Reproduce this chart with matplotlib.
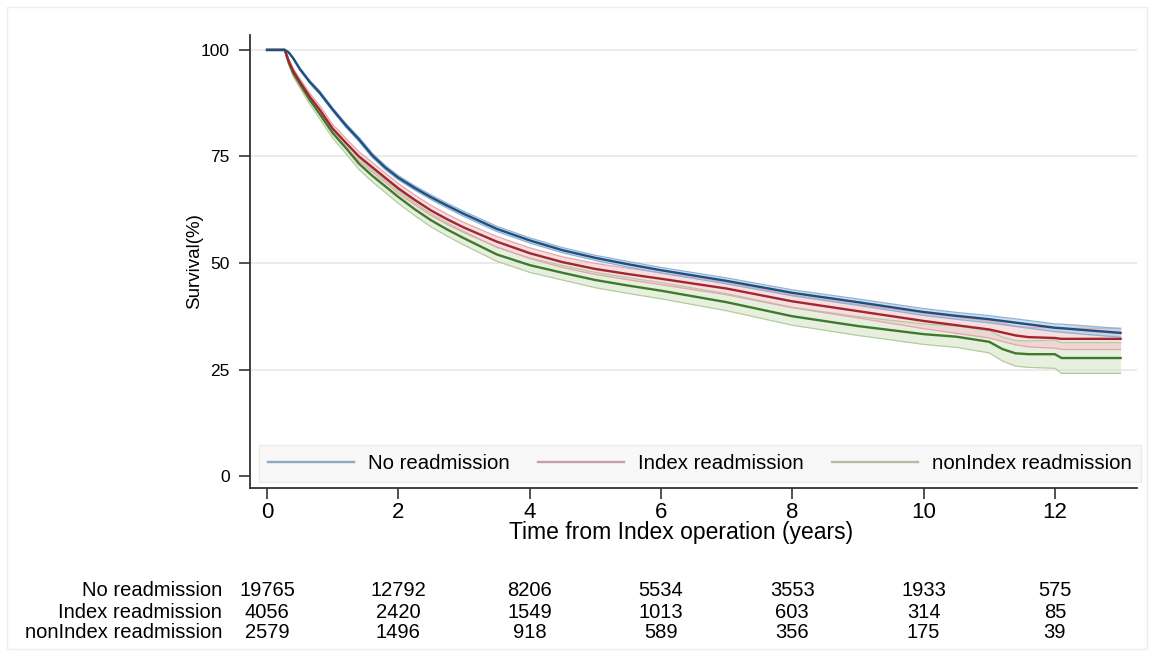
import matplotlib
matplotlib.use("Agg")
import matplotlib.pyplot as plt
import numpy as np
from matplotlib.lines import Line2D
from matplotlib.patches import Rectangle

plt.rcParams['font.family'] = ['Liberation Sans', 'DejaVu Sans']

# ---- data ----
times = [0, 0.27, 0.33, 0.4, 0.5, 0.65, 0.8, 1.0, 1.2, 1.4, 1.6,
         1.8, 2.0, 2.25, 2.5, 2.75, 3.0, 3.5, 4.0, 4.5, 5.0,
         5.5, 6.0, 7.0, 8.0, 9.0, 10.0, 10.5, 11.0, 11.2, 11.4,
         11.6, 12.0, 12.1, 12.5, 13.0]
no_readm = [100, 100, 99.4, 98.0, 95.5, 92.5, 90.0, 86.0, 82.3, 79.0, 75.3,
            72.4, 70.0, 67.6, 65.4, 63.4, 61.5, 58.0, 55.3, 53.0, 51.2,
            49.7, 48.3, 45.8, 43.0, 40.8, 38.5, 37.6, 36.8, 36.4, 36.0,
            35.6, 34.8, 34.7, 34.2, 33.6]
index_readm = [100, 100, 97.4, 95.0, 92.5, 89.0, 86.0, 81.5, 78.2, 75.0, 72.5,
               70.0, 67.5, 64.8, 62.3, 60.2, 58.3, 55.0, 52.3, 50.2, 48.6,
               47.4, 46.3, 44.0, 41.0, 38.7, 36.4, 35.4, 34.4, 33.7, 33.0,
               32.6, 32.4, 32.2, 32.2, 32.2]
nonindex_readm = [100, 100, 97.0, 94.5, 92.0, 88.3, 85.0, 80.5, 77.0, 73.3, 70.5,
                  68.0, 65.5, 62.6, 60.0, 57.8, 55.8, 52.0, 49.5, 47.7, 46.0,
                  44.7, 43.5, 40.8, 37.5, 35.2, 33.3, 32.7, 31.5, 29.8, 28.8,
                  28.6, 28.6, 27.7, 27.7, 27.7]
no_readm_ci = [0, 0, 0.1, 0.2, 0.3, 0.35, 0.4, 0.4, 0.45, 0.5, 0.5,
               0.5, 0.5, 0.5, 0.55, 0.55, 0.6, 0.6, 0.6, 0.6, 0.6,
               0.65, 0.65, 0.7, 0.7, 0.75, 0.8, 0.8, 0.85, 0.85, 0.9,
               0.9, 0.9, 0.95, 1.0, 1.0]
index_readm_ci = [0, 0, 0.4, 0.6, 0.75, 0.85, 0.95, 1.0, 1.05, 1.1, 1.1,
                  1.1, 1.15, 1.15, 1.2, 1.2, 1.2, 1.2, 1.25, 1.25, 1.3,
                  1.35, 1.4, 1.45, 1.5, 1.6, 1.8, 1.9, 2.0, 2.1, 2.2,
                  2.3, 2.4, 2.5, 2.5, 2.5]
nonindex_readm_ci = [0, 0, 0.5, 0.8, 0.9, 1.0, 1.1, 1.2, 1.3, 1.35, 1.4,
                     1.45, 1.5, 1.5, 1.55, 1.55, 1.6, 1.6, 1.7, 1.7, 1.8,
                     1.85, 1.9, 2.0, 2.1, 2.2, 2.4, 2.5, 2.6, 2.8, 3.0,
                     3.1, 3.3, 3.6, 3.6, 3.6]

series_labels = ["No readmission", "Index readmission", "nonIndex readmission"]
line_colors = ["#1f4f80", "#a3262f", "#3f7a2c"]
fill_colors = ["#a9c3de", "#f1c4c9", "#d4e4c6"]
edge_colors = ["#8fb2d4", "#e2a7ae", "#b3cc9f"]
legend_colors = ["#8ea8c0", "#c69fa9", "#b5bca4"]

xticks = [0, 2, 4, 6, 8, 10, 12]
yticks = [0, 25, 50, 75, 100]
risk_no = [19765, 12792, 8206, 5534, 3553, 1933, 575]
risk_index = [4056, 2420, 1549, 1013, 603, 314, 85]
risk_nonindex = [2579, 1496, 918, 589, 356, 175, 39]

# ---- figure ----
W, H = 1152, 669
fig = plt.figure(figsize=(W / 100, H / 100), dpi=100)
fig.patches.append(Rectangle((0.006, 0.03), 0.99, 0.96, transform=fig.transFigure,
                             fill=False, edgecolor="#ededed", linewidth=1.0))
ax = fig.add_axes([250 / W, 1 - 488 / H, 887 / W, 453 / H])

t = np.array(times)
all_series = [no_readm, index_readm, nonindex_readm]
all_ci = [no_readm_ci, index_readm_ci, nonindex_readm_ci]
for i in [2, 1, 0]:
    s = np.array(all_series[i])
    c = np.array(all_ci[i])
    ax.fill_between(t, s - c, s + c, color=fill_colors[i], alpha=0.55, linewidth=0, zorder=2)
    ax.plot(t, s - c, color=edge_colors[i], lw=0.9, zorder=3)
    ax.plot(t, s + c, color=edge_colors[i], lw=0.9, zorder=3)
for i in [2, 1, 0]:
    ax.plot(t, all_series[i], color=line_colors[i], lw=1.7, zorder=4)

ax.set_xlim(-0.26, 13.25)
ax.set_ylim(-2.8, 103.5)
ax.set_xticks(xticks)
ax.set_yticks(yticks)
ax.tick_params(axis='x', labelsize=16, length=8, width=1.2, color="#333333", pad=2)
ax.tick_params(axis='y', labelsize=12.5, length=8, width=1.2, color="#333333", pad=6.5)
for sp in ["top", "right"]:
    ax.spines[sp].set_visible(False)
for sp in ["left", "bottom"]:
    ax.spines[sp].set_color("#333333")
    ax.spines[sp].set_linewidth(1.3)
for yv in [25, 50, 75, 100]:
    ax.axhline(yv, color="#e9e9e9", lw=1.3, zorder=1)

ax.set_xlabel("Time from Index operation (years)", fontsize=16.5)
ax.xaxis.set_label_coords((681 - 250) / 887, (488 - 521) / 453)
ax.set_ylabel("Survival(%)", fontsize=13.5)
ax.yaxis.set_label_coords((203 - 250) / 887, 0.5)

handles = [Line2D([0], [0], color=c, lw=1.7) for c in legend_colors]
leg = ax.legend(handles, series_labels, ncol=3, mode="expand",
                bbox_to_anchor=(9 / 887, 6 / 453, 882 / 887, 44 / 453), loc="lower left",
                fontsize=14.7, handlelength=4.2, frameon=True, fancybox=False,
                borderaxespad=0, handletextpad=0.7, borderpad=0.45)
leg.get_frame().set_facecolor("#f7f7f7")
leg.get_frame().set_edgecolor("#e6e6e6")
leg.get_frame().set_linewidth(1.0)
leg.set_zorder(5)

# number-at-risk table
rows = [risk_no, risk_index, risk_nonindex]
row_y = [591, 612, 633]
for lab, vals, yp in zip(series_labels, rows, row_y):
    yf = 1 - yp / H
    fig.text(222 / W, yf, lab, ha="right", va="center", fontsize=14.5)
    for xv, n in zip(xticks, vals):
        xd = ax.transData.transform((xv, 0))[0]
        xf = fig.transFigure.inverted().transform((xd, 0))[0]
        fig.text(xf, yf, str(n), ha="center", va="center", fontsize=14.5)

fig.savefig("out.png", dpi=100)
